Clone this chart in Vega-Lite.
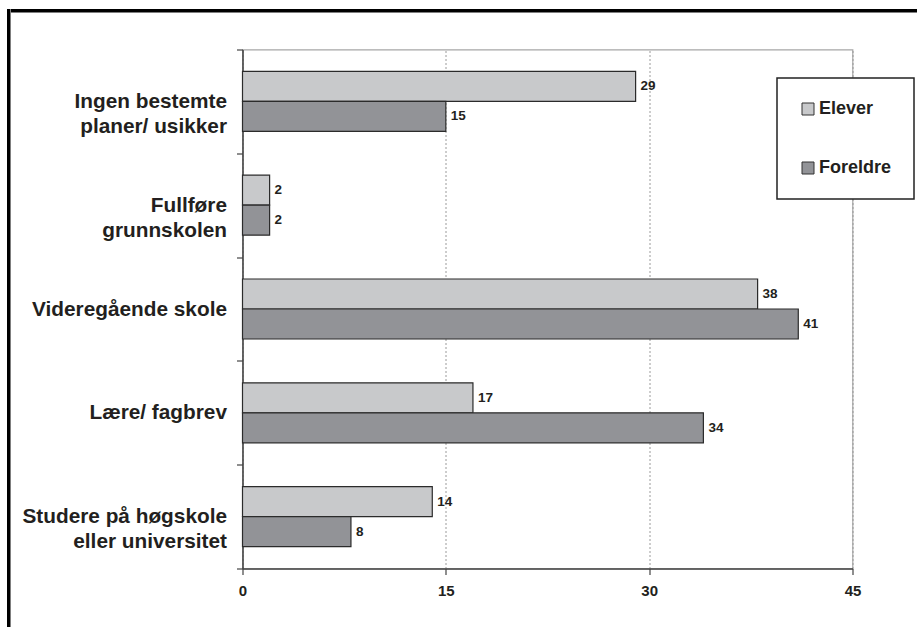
{
  "$schema": "https://vega.github.io/schema/vega-lite/v6.json",
  "background": "white",
  "padding": {"left": 7, "top": 9, "right": 0, "bottom": 0},
  "config": {"font": "Liberation Sans", "view": {"stroke": null}},
  "bounds": "flush",
  "spacing": 0,
  "hconcat": [
    {
      "width": 3.5,
      "height": 620,
      "data": {"values": []},
      "mark": "point",
      "view": {"fill": "#000000", "stroke": null}
    },
    {
      "bounds": "flush",
      "spacing": 36.5,
      "vconcat": [
        {
          "width": 915,
          "height": 3.5,
          "data": {"values": []},
          "mark": "point",
          "view": {"fill": "#000000", "stroke": null}
        },
        {
          "bounds": "flush",
          "spacing": 230.5,
          "hconcat": [
            {
              "width": 1,
              "height": 1,
              "data": {"values": []},
              "mark": "point"
            },
            {
              "width": 610,
              "height": 519,
              "view": {"stroke": "#a6a6a6", "strokeWidth": 1.2},
              "data": {
                "values": [
                  {"kategori": "Ingen bestemte planer/ usikker", "gruppe": "Elever", "andel": 29},
                  {"kategori": "Ingen bestemte planer/ usikker", "gruppe": "Foreldre", "andel": 15},
                  {"kategori": "Fullføre grunnskolen", "gruppe": "Elever", "andel": 2},
                  {"kategori": "Fullføre grunnskolen", "gruppe": "Foreldre", "andel": 2},
                  {"kategori": "Videregående skole", "gruppe": "Elever", "andel": 38},
                  {"kategori": "Videregående skole", "gruppe": "Foreldre", "andel": 41},
                  {"kategori": "Lære/ fagbrev", "gruppe": "Elever", "andel": 17},
                  {"kategori": "Lære/ fagbrev", "gruppe": "Foreldre", "andel": 34},
                  {"kategori": "Studere på høgskole eller universitet", "gruppe": "Elever", "andel": 14},
                  {"kategori": "Studere på høgskole eller universitet", "gruppe": "Foreldre", "andel": 8}
                ]
              },
              "encoding": {
                "y": {
                  "field": "kategori",
                  "type": "nominal",
                  "sort": null,
                  "scale": {"paddingInner": 0, "paddingOuter": 0},
                  "axis": {
                    "title": null,
                    "grid": false,
                    "domainColor": "#444444",
                    "domainWidth": 1.5,
                    "tickBand": "extent",
                    "tickSize": 6,
                    "tickColor": "#444444",
                    "tickWidth": 1.2,
                    "labelFont": "Liberation Sans",
                    "labelFontSize": 20.8,
                    "labelFontWeight": "bold",
                    "labelColor": "#231f20",
                    "labelPadding": 10,
                    "labelLineHeight": 25,
                    "labelLimit": 400,
                    "labelExpr": "datum.label == 'Ingen bestemte planer/ usikker' ? ['Ingen bestemte', 'planer/ usikker'] : datum.label == 'Fullføre grunnskolen' ? ['Fullføre', 'grunnskolen'] : datum.label == 'Studere på høgskole eller universitet' ? ['Studere på høgskole', 'eller universitet'] : datum.label"
                  }
                },
                "yOffset": {
                  "field": "gruppe",
                  "type": "nominal",
                  "sort": ["Elever", "Foreldre"],
                  "scale": {"paddingInner": 0, "paddingOuter": 0.73}
                },
                "x": {
                  "field": "andel",
                  "type": "quantitative",
                  "scale": {"domain": [0, 45], "nice": false},
                  "axis": {
                    "title": null,
                    "values": [0, 15, 30, 45],
                    "grid": true,
                    "gridColor": "#9a9a9a",
                    "gridDash": [2, 2],
                    "gridWidth": 1,
                    "domainColor": "#444444",
                    "domainWidth": 1.5,
                    "tickColor": "#444444",
                    "tickSize": 6,
                    "tickWidth": 1.2,
                    "labelFont": "Liberation Sans",
                    "labelFontSize": 15,
                    "labelFontWeight": "bold",
                    "labelColor": "#231f20",
                    "labelPadding": 9,
                    "labelFlush": false
                  }
                }
              },
              "layer": [
                {
                  "mark": {"type": "bar", "stroke": "#2b2b2b", "strokeWidth": 1.2},
                  "encoding": {
                    "color": {
                      "field": "gruppe",
                      "type": "nominal",
                      "scale": {"domain": ["Elever", "Foreldre"], "range": ["#c8c9cb", "#929397"]},
                      "legend": {
                        "title": null,
                        "orient": "none",
                        "legendX": 770,
                        "legendY": 69,
                        "direction": "vertical",
                        "symbolType": "square",
                        "symbolSize": 144,
                        "symbolStrokeColor": "#333333",
                        "symbolStrokeWidth": 1,
                        "labelFont": "Liberation Sans",
                        "labelFontSize": 18,
                        "labelFontWeight": "bold",
                        "labelColor": "#231f20",
                        "labelOffset": 2,
                        "rowPadding": 41,
                        "padding": 22,
                        "strokeColor": "#222222",
                        "fillColor": "white",
                        "encode": {"legend": {"update": {"strokeWidth": {"value": 1.5}}}}
                      }
                    }
                  }
                },
                {
                  "mark": {
                    "type": "text",
                    "align": "left",
                    "baseline": "middle",
                    "dx": 5,
                    "font": "Liberation Sans",
                    "fontSize": 13.5,
                    "fontWeight": "bold",
                    "color": "#231f20"
                  },
                  "encoding": {"text": {"field": "andel", "type": "quantitative"}}
                }
              ]
            }
          ]
        }
      ]
    }
  ]
}
